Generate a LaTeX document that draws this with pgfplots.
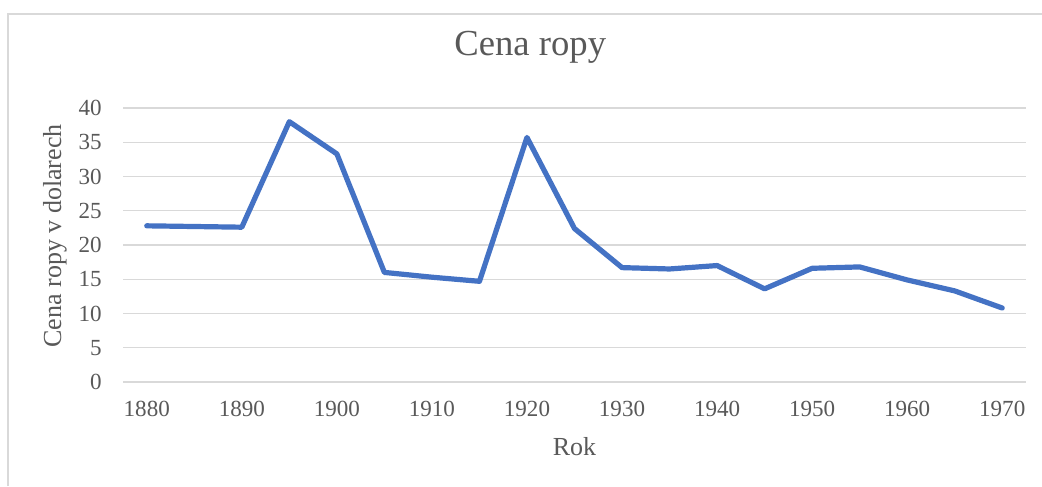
\documentclass[border=0pt]{standalone}
\usepackage{pgfplots}
\pgfplotsset{compat=1.18}
\usepackage{fontspec}
\setmainfont{Liberation Serif}
\definecolor{txtc}{HTML}{595959}
\definecolor{gridc}{HTML}{D9D9D9}
\definecolor{linec}{HTML}{4472C4}
\begin{document}
\begin{tikzpicture}
\useasboundingbox (0,0) rectangle (781.5pt,364.5pt);
\fill[white] (0,0) rectangle (781.5pt,364.5pt);
\draw[gridc, line width=1.1pt] (6pt,0) -- (6pt,354pt) -- (781.5pt,354pt);
\begin{axis}[
  at={(92.25pt,78pt)}, anchor=south west,
  scale only axis, width=677.25pt, height=205.5pt,
  xmin=1877.5, xmax=1972.5, ymin=0, ymax=40,
  xtick={1880,1890,...,1970}, ytick={0,5,...,40},
  xmajorgrids=false, ymajorgrids=true,
  y grid style={draw=gridc, line width=1pt},
  axis line style={draw=none}, tick style={draw=none}, major tick length=0pt,
  /pgf/number format/assume math mode=true,
  xticklabel={\pgfmathprintnumber[1000 sep={}]{\tick}},
  xticklabel style={font=\fontsize{17.3}{20}\selectfont, text=txtc, anchor=north, inner sep=0pt, yshift=-13.8pt},
  yticklabel style={font=\fontsize{17.3}{20}\selectfont, text=txtc, anchor=east, inner sep=0pt, xshift=-15.75pt},
  title={Cena ropy},
  title style={font=\fontsize{27.5}{31}\selectfont, text=txtc, at={(axis description cs:0.451,1.193)}, anchor=center},
  xlabel={Rok},
  xlabel style={font=\fontsize{19.5}{22}\selectfont, text=txtc, at={(axis description cs:0.5,-0.237)}, anchor=center},
  ylabel={Cena ropy v dolarech},
  ylabel style={font=\fontsize{19.5}{22}\selectfont, text=txtc, at={(axis description cs:-0.0753,0.533)}, anchor=center},
  clip=false,
]
\addplot[linec, line width=3.9pt, line join=round, line cap=round] coordinates {
  (1880,22.8) (1885,22.7) (1890,22.6) (1895,38.0) (1900,33.3)
  (1905,16.0) (1910,15.3) (1915,14.7) (1920,35.7) (1925,22.4)
  (1930,16.7) (1935,16.5) (1940,17.0) (1945,13.6) (1950,16.6)
  (1955,16.8) (1960,14.9) (1965,13.3) (1970,10.8)
};
\end{axis}
\end{tikzpicture}
\end{document}
